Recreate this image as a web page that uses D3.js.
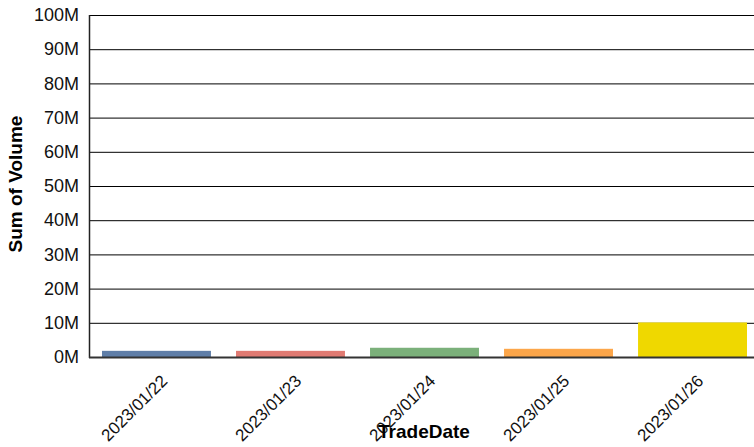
<!DOCTYPE html>
<html>
<head>
<meta charset="utf-8">
<script src="https://cdn.jsdelivr.net/npm/d3@7"></script>
<style>
  body { margin: 0; background: #fff; }
  text { font-family: "Liberation Sans", Arial, sans-serif; }
</style>
</head>
<body>
<svg id="chart"></svg>
<script>
const dates = ['2023/01/22', '2023/01/23', '2023/01/24', '2023/01/25', '2023/01/26']
const volumes = [1.8e6, 1.8e6, 2.7e6, 2.4e6, 10.1e6]
const colors = ['#5f7ea8', '#e07a72', '#7bb07a', '#fca64a', '#efd800']
const yTicks = [0, 10e6, 20e6, 30e6, 40e6, 50e6, 60e6, 70e6, 80e6, 90e6, 100e6]

const W = 754, H = 447
const m = { left: 89, top: 15, right: 0, bottom: 90 }
const svg = d3.select('#chart').attr('width', W).attr('height', H)

const x = d3.scaleBand().domain(dates).range([m.left, 760])
    .paddingInner(0.187).paddingOuter(0.097)
const y = d3.scaleLinear().domain([0, 100e6]).range([357, m.top])

// grid + y axis
const yAxis = svg.append('g')
    .attr('transform', `translate(${m.left},0)`)
    .call(d3.axisLeft(y).tickValues(yTicks).tickSize(-(W - m.left)).tickPadding(10)
        .tickFormat(d => `${d / 1e6}M`))
yAxis.select('.domain').remove()
yAxis.selectAll('line').attr('stroke', '#000').attr('stroke-width', 1)
yAxis.selectAll('text').attr('font-size', 18).attr('fill', '#111')

svg.append('line')
    .attr('x1', m.left + 0.5).attr('x2', m.left + 0.5)
    .attr('y1', m.top).attr('y2', 358)
    .attr('stroke', '#222').attr('stroke-width', 1.5)

// bars
svg.selectAll('.bar').data(dates)
    .enter().append('rect')
    .attr('class', 'bar')
    .attr('x', d => x(d))
    .attr('width', x.bandwidth())
    .attr('y', (d, i) => y(volumes[i]))
    .attr('height', (d, i) => y(0) - y(volumes[i]))
    .attr('fill', (d, i) => colors[i])

// baseline
svg.append('line')
    .attr('x1', m.left).attr('x2', W)
    .attr('y1', y(0) + 0.5).attr('y2', y(0) + 0.5)
    .attr('stroke', '#333').attr('stroke-width', 2)

// x labels
svg.selectAll('.xlab').data(dates)
    .enter().append('text')
    .attr('class', 'xlab')
    .attr('text-anchor', 'end')
    .attr('font-size', 17)
    .attr('fill', '#111')
    .attr('transform', d => `translate(${x(d) + x.bandwidth() / 2 + 12},382) rotate(-45)`)
    .text(d => d)

// titles
svg.append('text')
    .attr('x', 424).attr('y', 438)
    .attr('text-anchor', 'middle')
    .attr('font-size', 19).attr('font-weight', 'bold')
    .text('TradeDate')

svg.append('text')
    .attr('transform', `translate(22,184) rotate(-90)`)
    .attr('text-anchor', 'middle')
    .attr('font-size', 19).attr('font-weight', 'bold')
    .text('Sum of Volume')
</script>
</body>
</html>
